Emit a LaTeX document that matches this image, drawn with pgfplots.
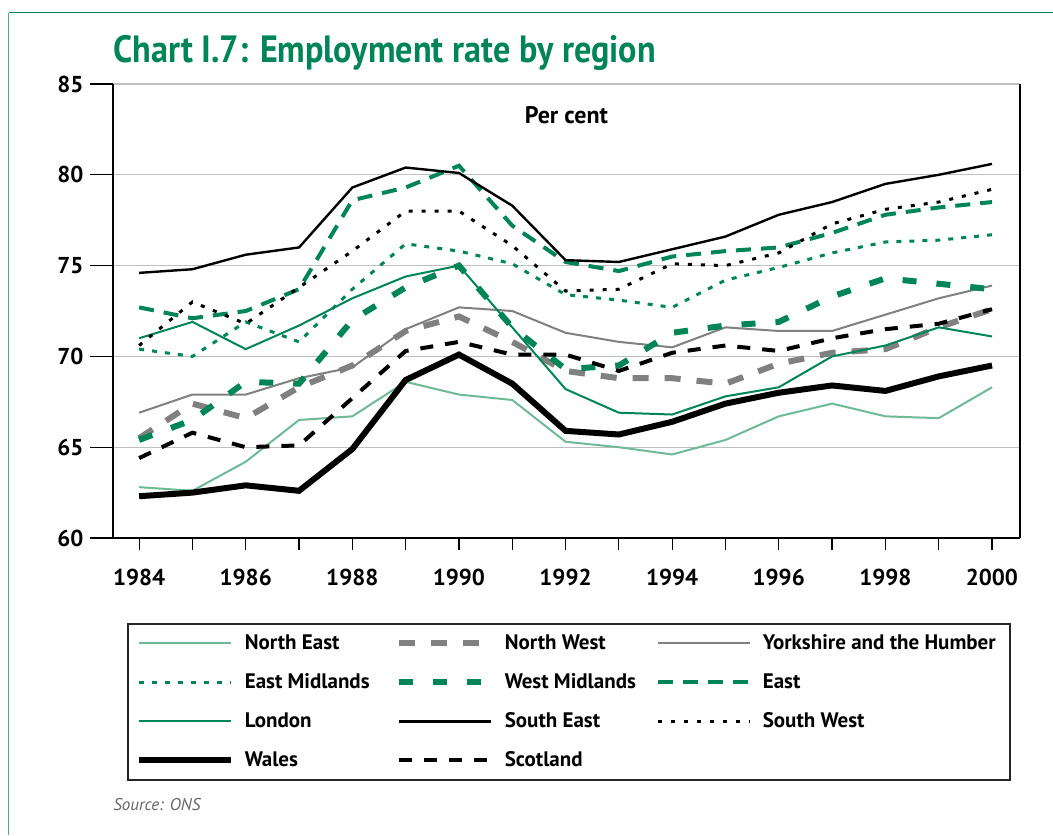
\documentclass[border=0pt]{standalone}
\usepackage{pgfplots}
\pgfplotsset{compat=1.18}
\usepackage{pgfplotstable}
\usepackage{fontspec}
\setmainfont{PT Sans}
\newfontfamily\titlefont[FakeStretch=0.9]{PT Sans}
\definecolor{cgreen}{RGB}{0,133,87}
\definecolor{lgreen}{RGB}{110,185,150}
\definecolor{fgreen}{RGB}{80,170,130}
\definecolor{cgray}{RGB}{128,128,128}

\pgfplotstableread{
year NE NW YH EM WM EA LO SE SW WA SC
1984 62.8 65.5 66.9 70.4 65.4 72.7 71.0 74.6 70.6 62.3 64.4
1985 62.6 67.4 67.9 70.0 66.5 72.1 71.9 74.8 73.0 62.5 65.8
1986 64.2 66.6 67.9 71.9 68.6 72.5 70.4 75.6 71.8 62.9 65.0
1987 66.5 68.3 68.8 70.8 68.5 73.7 71.7 76.0 73.8 62.6 65.1
1988 66.7 69.5 69.4 73.7 72.0 78.6 73.2 79.3 75.8 64.9 67.7
1989 68.6 71.4 71.5 76.2 73.8 79.3 74.4 80.4 78.0 68.7 70.3
1990 67.9 72.2 72.7 75.8 75.0 80.5 75.0 80.1 78.0 70.1 70.8
1991 67.6 70.8 72.5 75.1 71.6 77.2 71.6 78.3 76.1 68.5 70.1
1992 65.3 69.2 71.3 73.4 69.3 75.2 68.2 75.3 73.6 65.9 70.1
1993 65.0 68.8 70.8 73.1 69.5 74.7 66.9 75.2 73.7 65.7 69.2
1994 64.6 68.8 70.5 72.7 71.3 75.5 66.8 75.9 75.1 66.4 70.2
1995 65.4 68.5 71.6 74.2 71.7 75.8 67.8 76.6 75.0 67.4 70.6
1996 66.7 69.6 71.4 74.9 71.9 76.0 68.3 77.8 75.7 68.0 70.3
1997 67.4 70.2 71.4 75.7 73.3 76.8 70.0 78.5 77.3 68.4 71.0
1998 66.7 70.4 72.3 76.3 74.3 77.8 70.6 79.5 78.1 68.1 71.5
1999 66.6 71.6 73.2 76.4 74.0 78.2 71.6 80.0 78.5 68.9 71.8
2000 68.3 72.6 73.9 76.7 73.7 78.5 71.1 80.6 79.2 69.5 72.6
}\datatable

\begin{document}
\begin{tikzpicture}
\useasboundingbox (0,0) rectangle (526.5pt,-417.5pt);
\fill[white] (0,0) rectangle (526.5pt,-417.5pt);
% frame
\draw[cgreen,line width=0.8pt] (4.25pt,-6.25pt) -- (526.5pt,-6.25pt);
\draw[fgreen,line width=0.8pt] (4.25pt,-6.25pt) -- (4.25pt,-417.5pt);
% title
\node[anchor=base west,inner sep=0pt,text=cgreen,font=\titlefont\bfseries\fontsize{19}{22}\selectfont] at (56.5pt,-31pt) {Chart I.7: Employment rate by region};
\node[anchor=base west,inner sep=0pt,text=black!60,font=\itshape\fontsize{8.5}{10}\selectfont] at (56.5pt,-405pt) {Source: ONS};

\begin{axis}[
  at={(56.5pt,-269pt)}, anchor=south west,
  scale only axis, width=453.5pt, height=227pt,
  xmin=1983.51, xmax=2000.525, ymin=60, ymax=85,
  ytick={60,65,...,85},
  xtick={1984,...,2000},
  xticklabels={1984,,1986,,1988,,1990,,1992,,1994,,1996,,1998,,2000},
  axis x line*=bottom, axis y line*=left,
  axis line style={black,line width=0.6pt},
  tick align=outside,
  tick style={black,line width=0.6pt},
  ytick style={/pgfplots/major tick length=11.5pt},
  xtick style={/pgfplots/major tick length=6pt},
  ymajorgrids, grid style={black!25,line width=0.6pt},
  /pgf/number format/assume math mode=true,
  ticklabel style={font=\bfseries\fontsize{11.5}{13}\selectfont},
  xticklabel style={yshift=-7.5pt},
  yticklabel style={xshift=-7pt},
  legend columns=3,
  legend cell align=left,
  legend image code/.code={\draw[#1] (0pt,0pt) -- (46pt,0pt);},
  legend style={at={(0.01544,-0.18722)}, anchor=north west,
    draw=black!85, line width=0.8pt, inner xsep=4pt, inner ysep=0pt,
    font=\bfseries\fontsize{10.5}{12}\selectfont,
    nodes={inner sep=0pt, minimum height=19.5pt},
    /tikz/every odd column/.append style={column sep=5.5pt}},
  after end axis/.code={\draw[black,line width=0.6pt] (rel axis cs:1,0) -- (rel axis cs:1,1);},
  clip=false,
]
\addplot[lgreen, line width=1pt] table[x=year,y=NE] {\datatable};
\addlegendentry{\makebox[75.5pt][l]{North East}}
\addplot[cgray, line width=3pt, dash pattern=on 8pt off 8pt] table[x=year,y=NW] {\datatable};
\addlegendentry{\makebox[75.5pt][l]{North West}}
\addplot[cgray, line width=1pt] table[x=year,y=YH] {\datatable};
\addlegendentry{\makebox[119.5pt][l]{Yorkshire and the Humber}}
\addplot[cgreen, line width=1.5pt, dash pattern=on 2.5pt off 4pt] table[x=year,y=EM] {\datatable};
\addlegendentry{\makebox[75.5pt][l]{East Midlands}}
\addplot[cgreen, line width=3pt, dash pattern=on 7pt off 10pt] table[x=year,y=WM] {\datatable};
\addlegendentry{\makebox[75.5pt][l]{West Midlands}}
\addplot[cgreen, line width=2pt, dash pattern=on 7.5pt off 5pt] table[x=year,y=EA] {\datatable};
\addlegendentry{\makebox[119.5pt][l]{East}}
\addplot[cgreen, line width=1pt] table[x=year,y=LO] {\datatable};
\addlegendentry{\makebox[75.5pt][l]{London}}
\addplot[black, line width=1.2pt] table[x=year,y=SE] {\datatable};
\addlegendentry{\makebox[75.5pt][l]{South East}}
\addplot[black, line width=1.5pt, dash pattern=on 2pt off 4.5pt] table[x=year,y=SW] {\datatable};
\addlegendentry{\makebox[119.5pt][l]{South West}}
\addplot[black, line width=3pt] table[x=year,y=WA] {\datatable};
\addlegendentry{\makebox[75.5pt][l]{Wales}}
\addplot[black, line width=2pt, dash pattern=on 6.5pt off 6pt] table[x=year,y=SC] {\datatable};
\addlegendentry{\makebox[75.5pt][l]{Scotland}}
\node[font=\bfseries\fontsize{12}{14}\selectfont] at (axis description cs:0.5,0.932) {Per cent};
\end{axis}
\end{tikzpicture}
\end{document}
